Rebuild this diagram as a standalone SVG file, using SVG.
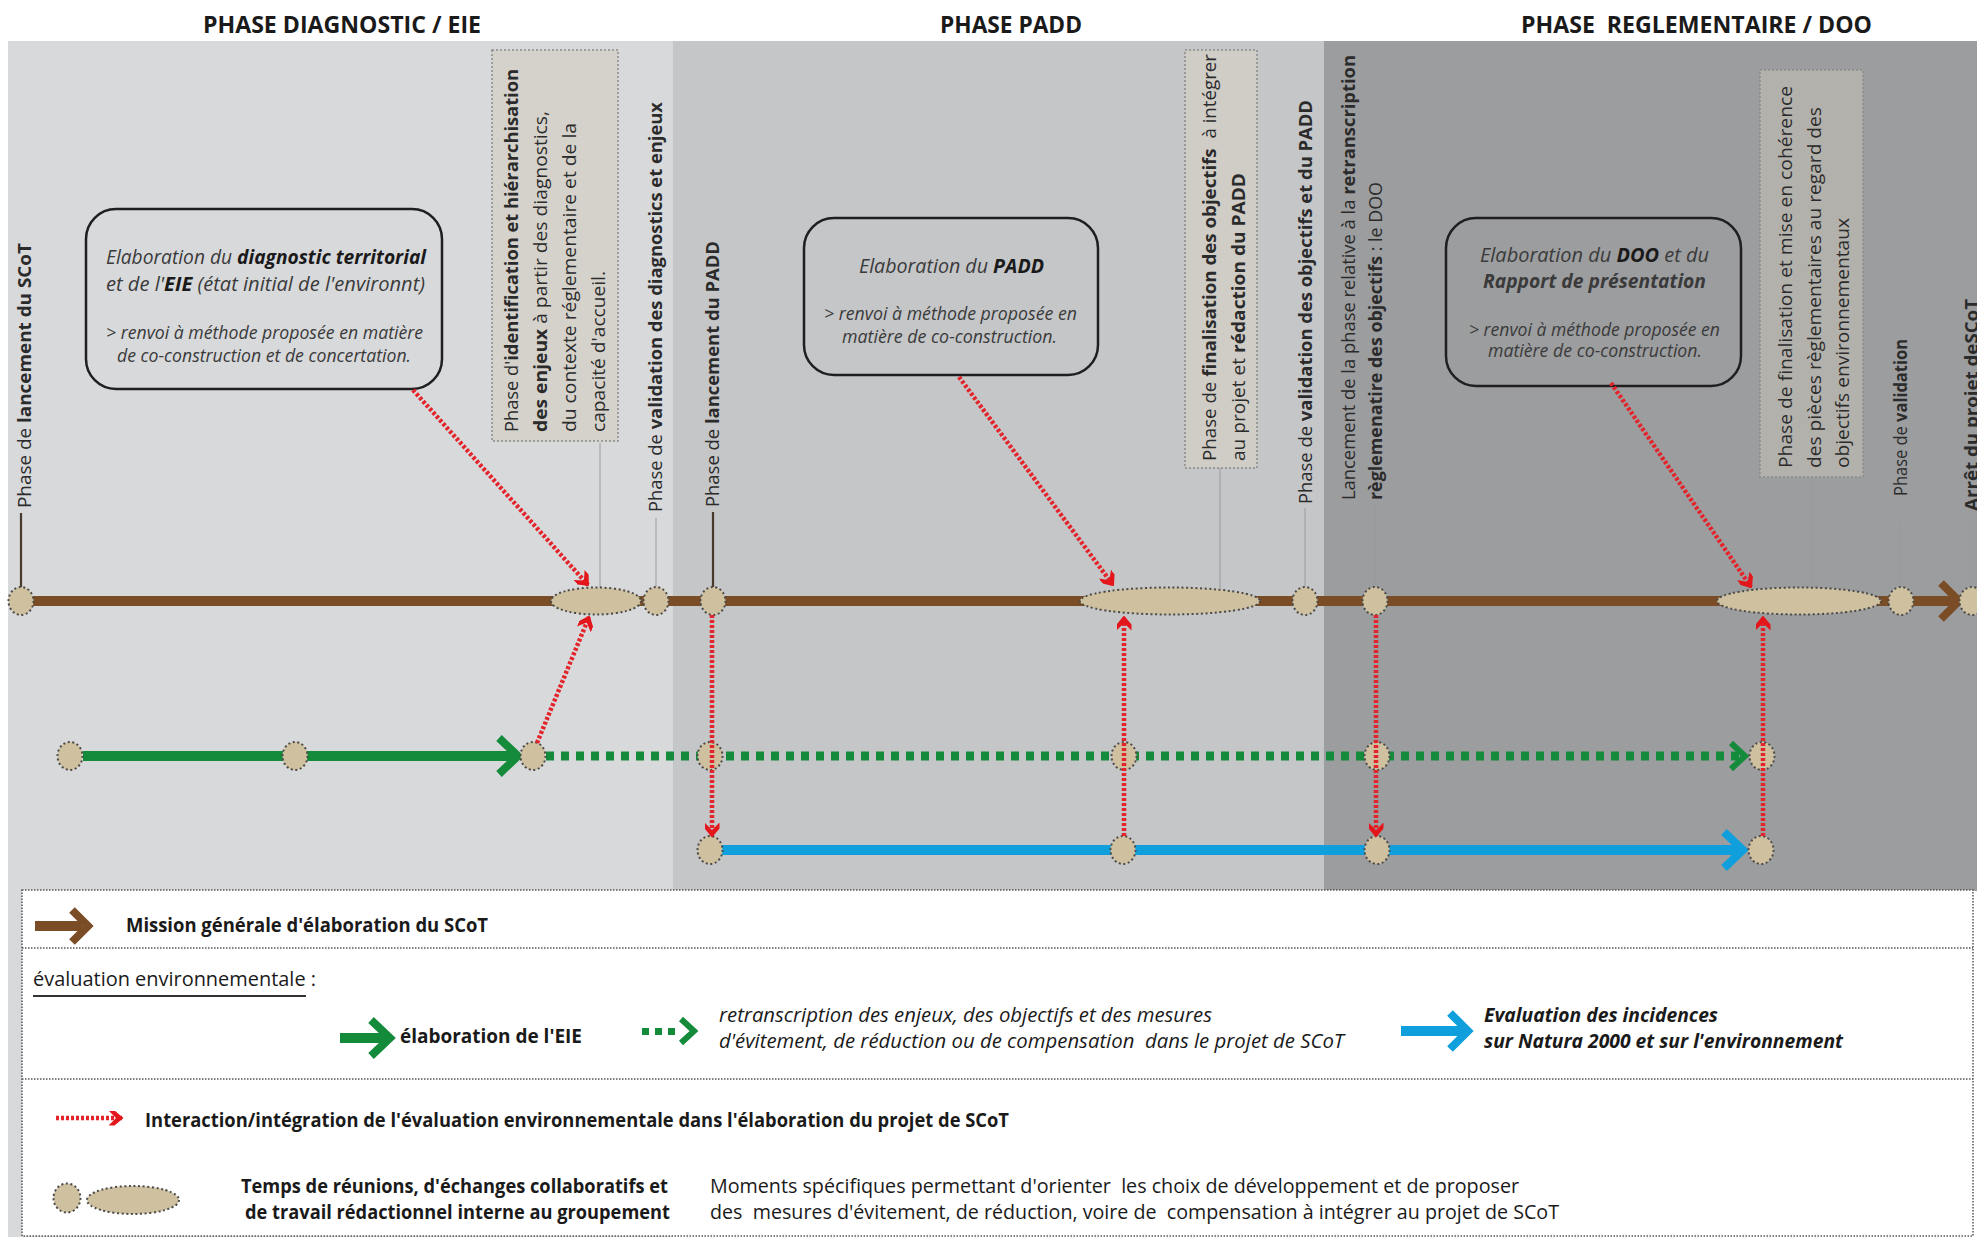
<svg xmlns="http://www.w3.org/2000/svg" width="1977" height="1237" viewBox="0 0 1977 1237">
<defs>
<style>
.hdr{font-family:"Open Sans","Liberation Sans",sans-serif;font-weight:700;font-size:24px;fill:#1a1a1a}
.vl{font-family:"Open Sans","Liberation Sans",sans-serif;font-size:18.5px;fill:#2b2b2b}
.b{font-weight:700}
.bx{font-family:"Open Sans","Liberation Sans",sans-serif;font-style:italic;fill:#3a3a3a}
.lg{font-family:"Open Sans","Liberation Sans",sans-serif;font-size:20px;fill:#1a1a1a}
.pre{white-space:pre}
.node{fill:#cfc19f;stroke:#4a4a4a;stroke-width:2;stroke-dasharray:2 2.6}
.tk{stroke:#9a9a9a;stroke-width:1}
.tkd{stroke:#4a3a2c;stroke-width:2.2}
.lbox{stroke:#8a8a8a;stroke-width:1.5;stroke-dasharray:2 2}
.tbox{fill:none;stroke:#1f1f1f;stroke-width:2.5}
.red{fill:none;stroke:#e3242b;stroke-width:4.5;stroke-dasharray:3 2}
.div{stroke:#555;stroke-width:1.5;stroke-dasharray:1.5 1.5}
</style>
<marker id="rh" viewBox="0 0 10 10" refX="9" refY="5" markerWidth="15" markerHeight="15" markerUnits="userSpaceOnUse" orient="auto">
<path d="M0,0 L4,0 L10,5 L4,10 L0,10 L5,5 Z" fill="#e3161c"/>
</marker>
</defs>
<rect width="1977" height="1237" fill="#ffffff"/>
<g id="panels">
<rect x="8" y="41" width="665" height="1196" fill="#d8d9db"/>
<rect x="673" y="41" width="651" height="850" fill="#c5c6c8"/>
<rect x="1324" y="41" width="653" height="850" fill="#9c9d9f"/>
</g>
<g id="headers">
<text class="hdr" x="203" y="33" textLength="278" lengthAdjust="spacingAndGlyphs">PHASE DIAGNOSTIC / EIE</text>
<text class="hdr" x="940" y="33" textLength="142" lengthAdjust="spacingAndGlyphs">PHASE PADD</text>
<text class="hdr pre" x="1521" y="33" textLength="351" lengthAdjust="spacingAndGlyphs">PHASE  REGLEMENTAIRE / DOO</text>
</g>
<g id="label-boxes">
<rect class="lbox" x="492" y="50" width="126" height="391" fill="#d5d2cb"/>
<rect class="lbox" x="1185" y="50" width="72" height="418" fill="#d0cdc7"/>
<rect class="lbox" x="1760" y="70" width="103" height="407" fill="#b3b1ac"/>
</g>
<g id="ticks">
<line class="tkd" x1="21" y1="513" x2="21" y2="587"/>
<line class="tk" x1="600" y1="443" x2="600" y2="588"/>
<line class="tk" x1="656" y1="518" x2="656" y2="587"/>
<line class="tkd" x1="713" y1="512" x2="713" y2="587"/>
<line class="tk" x1="1220" y1="468" x2="1220" y2="588"/>
<line class="tk" x1="1305" y1="508" x2="1305" y2="587"/>
<line class="tk" x1="1375" y1="505" x2="1375" y2="587"/>
<line class="tk" x1="1812" y1="477" x2="1812" y2="590"/>
<line class="tk" x1="1900" y1="522" x2="1900" y2="587"/>
<line class="tk" x1="1970" y1="515" x2="1970" y2="587"/>
</g>
<g id="lbl-lancement-scot">
<text class="vl" transform="translate(31,508) rotate(-90)" textLength="265" lengthAdjust="spacingAndGlyphs">Phase de <tspan class="b">lancement du SCoT</tspan></text>
</g>
<g id="lbl-identification">
<text class="vl" transform="translate(518,432) rotate(-90)" textLength="363" lengthAdjust="spacingAndGlyphs">Phase d'<tspan class="b">identification et hiérarchisation</tspan></text>
<text class="vl" transform="translate(547,432) rotate(-90)" textLength="321" lengthAdjust="spacingAndGlyphs"><tspan class="b">des enjeux</tspan> à partir des diagnostics,</text>
<text class="vl" transform="translate(576,432) rotate(-90)" textLength="309" lengthAdjust="spacingAndGlyphs">du contexte réglementaire et de la</text>
<text class="vl" transform="translate(605,432) rotate(-90)" textLength="161" lengthAdjust="spacingAndGlyphs">capacité d'accueil.</text>
</g>
<g id="lbl-validation-diag">
<text class="vl" transform="translate(662,512) rotate(-90)" textLength="410" lengthAdjust="spacingAndGlyphs">Phase de <tspan class="b">validation des diagnostics et enjeux</tspan></text>
</g>
<g id="lbl-lancement-padd">
<text class="vl" transform="translate(719,507) rotate(-90)" textLength="266" lengthAdjust="spacingAndGlyphs">Phase de <tspan class="b">lancement du PADD</tspan></text>
</g>
<g id="lbl-finalisation-obj">
<text class="vl pre" transform="translate(1216,461) rotate(-90)" textLength="407" lengthAdjust="spacingAndGlyphs">Phase de <tspan class="b">finalisation des objectifs</tspan>  à intégrer</text>
<text class="vl" transform="translate(1245,461) rotate(-90)" textLength="288" lengthAdjust="spacingAndGlyphs">au projet et <tspan class="b">rédaction du PADD</tspan></text>
</g>
<g id="lbl-validation-obj">
<text class="vl" transform="translate(1312,504) rotate(-90)" textLength="404" lengthAdjust="spacingAndGlyphs">Phase de <tspan class="b">validation des objectifs et du PADD</tspan></text>
</g>
<g id="lbl-lancement-doo">
<text class="vl" transform="translate(1355,500) rotate(-90)" textLength="445" lengthAdjust="spacingAndGlyphs">Lancement de la phase relative à la <tspan class="b">retranscription</tspan></text>
<text class="vl" transform="translate(1382,500) rotate(-90)" textLength="318" lengthAdjust="spacingAndGlyphs"><tspan class="b">règlemenatire des objectifs</tspan> : le DOO</text>
</g>
<g id="lbl-finalisation-coherence">
<text class="vl" transform="translate(1792,468) rotate(-90)" textLength="382" lengthAdjust="spacingAndGlyphs">Phase de finalisation et mise en cohérence</text>
<text class="vl" transform="translate(1821,468) rotate(-90)" textLength="361" lengthAdjust="spacingAndGlyphs">des pièces règlementaires au regard des</text>
<text class="vl" transform="translate(1849,468) rotate(-90)" textLength="250" lengthAdjust="spacingAndGlyphs">objectifs environnementaux</text>
</g>
<g id="lbl-validation">
<text class="vl" transform="translate(1907,496) rotate(-90)" textLength="157" lengthAdjust="spacingAndGlyphs">Phase de <tspan class="b">validation</tspan></text>
</g>
<g id="lbl-arret">
<text class="vl b" transform="translate(1978,511) rotate(-90)" textLength="212" lengthAdjust="spacingAndGlyphs">Arrêt du projet deSCoT</text>
</g>
<g id="box-diagnostic">
<rect class="tbox" x="86" y="209" width="356" height="180" rx="30" ry="30"/>
<text class="bx" x="106" y="264" font-size="20" textLength="320" lengthAdjust="spacingAndGlyphs">Elaboration du <tspan class="b" fill="#1a1a1a">diagnostic territorial</tspan></text>
<text class="bx" x="106" y="291" font-size="20" textLength="319" lengthAdjust="spacingAndGlyphs">et de l'<tspan class="b" fill="#1a1a1a">EIE</tspan> (état initial de l'environnt)</text>
<text class="bx" x="106" y="339" font-size="17.5" textLength="317" lengthAdjust="spacingAndGlyphs">&gt; renvoi à méthode proposée en matière</text>
<text class="bx" x="117" y="362" font-size="17.5" textLength="294" lengthAdjust="spacingAndGlyphs">de co-construction et de concertation.</text>
</g>
<g id="box-padd">
<rect class="tbox" x="804" y="218" width="294" height="157" rx="30" ry="30"/>
<text class="bx" x="859" y="273" font-size="20" textLength="185" lengthAdjust="spacingAndGlyphs">Elaboration du <tspan class="b" fill="#1a1a1a">PADD</tspan></text>
<text class="bx" x="824" y="320" font-size="17.5" textLength="253" lengthAdjust="spacingAndGlyphs">&gt; renvoi à méthode proposée en</text>
<text class="bx" x="842" y="343" font-size="17.5" textLength="215" lengthAdjust="spacingAndGlyphs">matière de co-construction.</text>
</g>
<g id="box-doo">
<rect class="tbox" x="1446" y="218" width="295" height="168" rx="30" ry="30"/>
<text class="bx" x="1480" y="262" font-size="20" textLength="229" lengthAdjust="spacingAndGlyphs">Elaboration du <tspan class="b" fill="#1a1a1a">DOO</tspan> et du</text>
<text class="bx b" x="1483" y="288" font-size="20" fill="#1a1a1a" textLength="223" lengthAdjust="spacingAndGlyphs">Rapport de présentation</text>
<text class="bx" x="1469" y="336" font-size="17.5" textLength="251" lengthAdjust="spacingAndGlyphs">&gt; renvoi à méthode proposée en</text>
<text class="bx" x="1488" y="357" font-size="17.5" textLength="214" lengthAdjust="spacingAndGlyphs">matière de co-construction.</text>
</g>
<g id="lines">
<line x1="33" y1="601" x2="1954" y2="601" stroke="#7b4d26" stroke-width="10"/>
<polyline points="1941,583 1959,601 1941,619" fill="none" stroke="#7b4d26" stroke-width="8"/>
<line x1="83" y1="756" x2="516" y2="756" stroke="#138b3b" stroke-width="10"/>
<polyline points="499,738 518,756 499,774" fill="none" stroke="#138b3b" stroke-width="8"/>
<line x1="546" y1="756" x2="1741" y2="756" stroke="#138b3b" stroke-width="9" stroke-dasharray="8 7"/>
<polyline points="1731,743 1745,756 1731,769" fill="none" stroke="#138b3b" stroke-width="6"/>
<line x1="722" y1="850" x2="1741" y2="850" stroke="#0e9fdc" stroke-width="10"/>
<polyline points="1724,832 1743,850 1724,868" fill="none" stroke="#0e9fdc" stroke-width="8"/>
</g>
<g id="nodes">
<ellipse class="node" cx="21" cy="601" rx="12.5" ry="14"/>
<ellipse class="node" cx="596" cy="601" rx="45" ry="13.5"/>
<ellipse class="node" cx="656" cy="601" rx="12.5" ry="14"/>
<ellipse class="node" cx="713" cy="601" rx="12.5" ry="14"/>
<ellipse class="node" cx="1170" cy="601" rx="90" ry="13.5"/>
<ellipse class="node" cx="1305" cy="601" rx="12.5" ry="14"/>
<ellipse class="node" cx="1375" cy="601" rx="12.5" ry="14"/>
<ellipse class="node" cx="1799" cy="601" rx="82" ry="13.5"/>
<ellipse class="node" cx="1901" cy="601" rx="12.5" ry="14"/>
<ellipse class="node" cx="1972" cy="601" rx="12.5" ry="14"/>
<ellipse class="node" cx="70" cy="756" rx="12.5" ry="14"/>
<ellipse class="node" cx="295" cy="756" rx="12.5" ry="14"/>
<ellipse class="node" cx="533" cy="756" rx="12.5" ry="14"/>
<ellipse class="node" cx="710" cy="756" rx="12.5" ry="14"/>
<ellipse class="node" cx="1124" cy="756" rx="12.5" ry="14"/>
<ellipse class="node" cx="1377" cy="756" rx="12.5" ry="14"/>
<ellipse class="node" cx="1762" cy="756" rx="12.5" ry="14"/>
<ellipse class="node" cx="710" cy="850" rx="12.5" ry="14"/>
<ellipse class="node" cx="1123" cy="850" rx="12.5" ry="14"/>
<ellipse class="node" cx="1377" cy="850" rx="12.5" ry="14"/>
<ellipse class="node" cx="1761" cy="850" rx="12.5" ry="14"/>
</g>
<g id="connectors">
<line class="red" x1="413" y1="390" x2="588" y2="585" marker-end="url(#rh)"/>
<line class="red" x1="537" y1="743" x2="589" y2="617" marker-end="url(#rh)"/>
<line class="red" x1="959" y1="377" x2="1113" y2="585" marker-end="url(#rh)"/>
<line class="red" x1="712" y1="615" x2="712" y2="836" marker-end="url(#rh)"/>
<line class="red" x1="1124" y1="836" x2="1124" y2="617" marker-end="url(#rh)"/>
<line class="red" x1="1376" y1="615" x2="1376" y2="836" marker-end="url(#rh)"/>
<line class="red" x1="1611" y1="383" x2="1751" y2="587" marker-end="url(#rh)"/>
<line class="red" x1="1763" y1="836" x2="1763" y2="617" marker-end="url(#rh)"/>
</g>
<g id="legend">
<rect x="22" y="890" width="1951" height="346" fill="#ffffff" stroke="#555" stroke-width="1.5" stroke-dasharray="1.5 1.5"/>
<line class="div" x1="22" y1="948" x2="1973" y2="948"/>
<line class="div" x1="22" y1="1079" x2="1973" y2="1079"/>
<line x1="35" y1="926" x2="82" y2="926" stroke="#7b4d26" stroke-width="10"/>
<polyline points="72,910 88,926 72,942" fill="none" stroke="#7b4d26" stroke-width="8"/>
<text class="lg b" x="126" y="932" textLength="362" lengthAdjust="spacingAndGlyphs">Mission générale d'élaboration du SCoT</text>
<text class="lg" x="33" y="986" textLength="283" lengthAdjust="spacingAndGlyphs">évaluation environnementale :</text>
<line x1="33" y1="996" x2="306" y2="996" stroke="#333" stroke-width="2"/>
<line x1="340" y1="1038" x2="386" y2="1038" stroke="#138b3b" stroke-width="10"/>
<polyline points="371,1020 390,1038 371,1056" fill="none" stroke="#138b3b" stroke-width="8"/>
<text class="lg b" x="400" y="1043" textLength="182" lengthAdjust="spacingAndGlyphs">élaboration de l'EIE</text>
<rect x="642" y="1028" width="7" height="7" fill="#138b3b"/>
<rect x="655" y="1028" width="7" height="7" fill="#138b3b"/>
<rect x="668" y="1028" width="7" height="7" fill="#138b3b"/>
<polyline points="681,1019 694,1031 681,1043" fill="none" stroke="#138b3b" stroke-width="6"/>
<text class="lg" x="719" y="1022" font-style="italic" fill="#2b2b2b" textLength="493" lengthAdjust="spacingAndGlyphs">retranscription des enjeux, des objectifs et des mesures</text>
<text class="lg pre" x="719" y="1048" font-style="italic" fill="#2b2b2b" textLength="625" lengthAdjust="spacingAndGlyphs">d'évitement, de réduction ou de compensation  dans le projet de SCoT</text>
<line x1="1401" y1="1031" x2="1464" y2="1031" stroke="#0e9fdc" stroke-width="10"/>
<polyline points="1450,1013 1468,1031 1450,1049" fill="none" stroke="#0e9fdc" stroke-width="8"/>
<text class="lg b" x="1484" y="1022" font-style="italic" textLength="234" lengthAdjust="spacingAndGlyphs">Evaluation des incidences</text>
<text class="lg b" x="1484" y="1048" font-style="italic" textLength="359" lengthAdjust="spacingAndGlyphs">sur Natura 2000 et sur l'environnement</text>
<line class="red" x1="56" y1="1118" x2="122" y2="1118" marker-end="url(#rh)"/>
<text class="lg b" x="145" y="1127" textLength="864" lengthAdjust="spacingAndGlyphs">Interaction/intégration de l'évaluation environnementale dans l'élaboration du projet de SCoT</text>
<ellipse class="node" cx="67" cy="1198" rx="13.5" ry="14.5"/>
<ellipse class="node" cx="133" cy="1200" rx="46" ry="14"/>
<text class="lg b" x="241" y="1193" textLength="427" lengthAdjust="spacingAndGlyphs">Temps de réunions, d'échanges collaboratifs et</text>
<text class="lg b" x="245" y="1219" textLength="425" lengthAdjust="spacingAndGlyphs">de travail rédactionnel interne au groupement</text>
<text class="lg pre" x="710" y="1193" fill="#2b2b2b" textLength="809" lengthAdjust="spacingAndGlyphs">Moments spécifiques permettant d'orienter  les choix de développement et de proposer</text>
<text class="lg pre" x="710" y="1219" fill="#2b2b2b" textLength="849" lengthAdjust="spacingAndGlyphs">des  mesures d'évitement, de réduction, voire de  compensation à intégrer au projet de SCoT</text>
</g>
</svg>
